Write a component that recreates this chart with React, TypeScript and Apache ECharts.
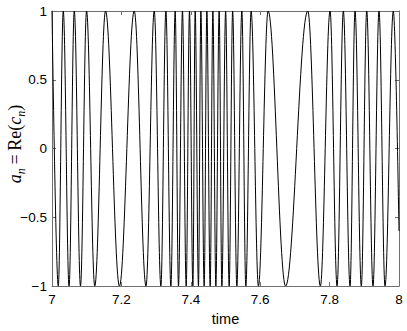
import React, { useEffect, useRef } from 'react';
import * as echarts from 'echarts';

// Times (s) of the successive extrema of a_n, plus the two end points
const extremaTimes = [
  7.0, 7.0181, 7.0325, 7.0492, 7.0642, 7.0821, 7.0996, 7.1232, 7.1543, 7.1944,
  7.237, 7.2709, 7.2946, 7.3138, 7.3282, 7.3426, 7.355, 7.3645, 7.376, 7.3867,
  7.3962, 7.406, 7.4126, 7.4221, 7.429, 7.4385, 7.4463, 7.4558, 7.4636, 7.4722,
  7.4817, 7.4895, 7.5004, 7.5105, 7.5206, 7.5327, 7.5471, 7.5586, 7.5738, 7.5949,
  7.6228, 7.6732, 7.7371, 7.7734, 7.8013, 7.8215, 7.8396, 7.8589, 7.8733, 7.8914,
  7.907, 7.9251, 7.9424, 7.9597, 7.9836, 8.0,
];
// a_n value at each of those times
const extremaValues = [
  1, -1, 1, -1, 1, -1, 1, -1, 1, -1,
  1, -1, 1, -1, 1, -1, 1, -1, 1, -1,
  1, -1, 1, -1, 1, -1, 1, -1, 1, -1,
  1, -1, 1, -1, 1, -1, 1, -1, 1, -1,
  1, -1, 1, -1, 1, -1, 1, -1, 1, -1,
  1, -1, 1, -1, 1, -0.6,
];
const xTicks = [7, 7.2, 7.4, 7.6, 7.8, 8];
const yTicks = [-1, -0.5, 0, 0.5, 1];
const xLabel = 'time';

export default function App() {
  const ref = useRef<HTMLDivElement>(null);
  useEffect(() => {
    const el = ref.current!;
    const chart = echarts.init(el, null, { renderer: 'svg', width: 407, height: 331 });
    const axisColor = '#6f6f6f';
    const labelFont = { fontFamily: 'Liberation Sans', fontSize: 13.5, color: '#000' };
    const xMin = xTicks[0];
    const xMax = xTicks[xTicks.length - 1];
    const xInt = +(xTicks[1] - xTicks[0]).toFixed(6);
    const yMin = yTicks[0];
    const yMax = yTicks[yTicks.length - 1];
    const yInt = yTicks[1] - yTicks[0];
    const fmt = (v: number) => String(+v.toFixed(6)).replace('-', '\u2212');
    const common = {
      axisLine: { show: true, onZero: false, lineStyle: { color: axisColor, width: 1 } },
      axisTick: { show: true, inside: true, length: 4, lineStyle: { color: axisColor, width: 1 } },
      splitLine: { show: false },
    };
    chart.setOption({
      animation: false,
      backgroundColor: '#fff',
      grid: { left: 52, right: 8, top: 11, bottom: 37, containLabel: false },
      xAxis: [
        {
          type: 'value', position: 'bottom', min: xMin, max: xMax, interval: xInt, ...common,
          axisLabel: { ...labelFont, margin: 6, formatter: fmt },
          name: xLabel, nameLocation: 'middle', nameGap: 19,
          nameTextStyle: { fontFamily: 'Liberation Sans', fontSize: 14.5, color: '#000' },
        },
        {
          type: 'value', position: 'top', min: xMin, max: xMax, interval: xInt, ...common,
          axisLabel: { show: false },
        },
      ],
      yAxis: [
        {
          type: 'value', position: 'left', min: yMin, max: yMax, interval: yInt, ...common,
          axisLabel: { ...labelFont, margin: 5, formatter: fmt },
        },
        {
          type: 'value', position: 'right', min: yMin, max: yMax, interval: yInt, ...common,
          axisLabel: { show: false },
        },
      ],
      graphic: [
        {
          type: 'text',
          x: 15,
          y: 144,
          rotation: Math.PI / 2,
          style: {
            text: '{i|a}{s|n}{r|\u2009=\u2009Re(}{i|c}{s|n}{r|)}',
            align: 'center',
            verticalAlign: 'middle',
            fill: '#000',
            rich: {
              i: { fontFamily: 'Liberation Serif', fontStyle: 'italic', fontSize: 18, lineHeight: 24, verticalAlign: 'middle', fill: '#000' },
              r: { fontFamily: 'Liberation Serif', fontSize: 18, lineHeight: 24, verticalAlign: 'middle', fill: '#000' },
              s: { fontFamily: 'Liberation Serif', fontStyle: 'italic', fontSize: 12, lineHeight: 12, verticalAlign: 'bottom', fill: '#000' },
            },
          },
        },
      ],
      series: [
        {
          type: 'line',
          xAxisIndex: 0,
          yAxisIndex: 0,
          data: extremaTimes.map((t, i) => [t, extremaValues[i]]),
          showSymbol: false,
          smooth: 0.363,
          smoothMonotone: 'x',
          lineStyle: { color: '#000', width: 1 },
          clip: true,
        },
      ],
    });
    return () => chart.dispose();
  }, []);
  return (
    <div
      ref={ref}
      style={{ position: 'fixed', left: 0, top: 0, width: 407, height: 331, background: '#fff' }}
    />
  );
}
